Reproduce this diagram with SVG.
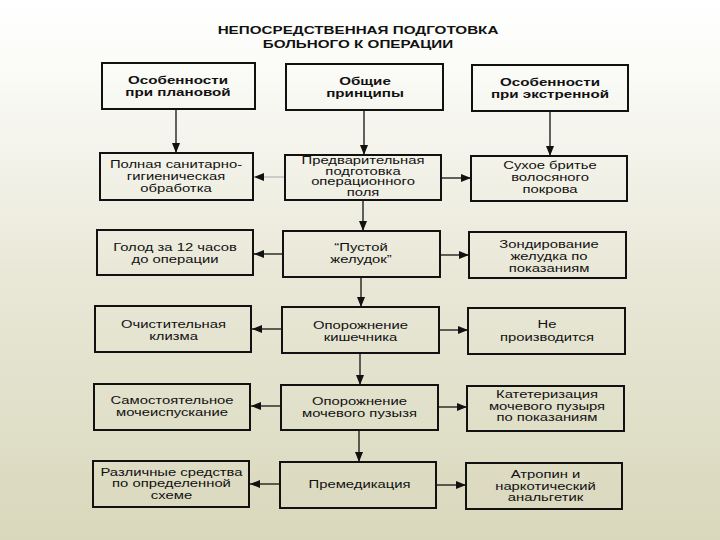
<svg xmlns="http://www.w3.org/2000/svg" width="720" height="540" viewBox="0 0 720 540">
<defs>
<linearGradient id="bg" x1="0" y1="0" x2="0" y2="1">
<stop offset="0" stop-color="#ffffff"/>
<stop offset="0.12" stop-color="#fbfbf8"/>
<stop offset="0.5" stop-color="#e9e8d8"/>
<stop offset="1" stop-color="#d9d8bc"/>
</linearGradient>
<marker id="ah" markerUnits="userSpaceOnUse" markerWidth="10" markerHeight="8" refX="10" refY="4" orient="auto">
<path d="M0,0 L10,4 L0,8 z" fill="#111"/>
</marker>
<style>
.box{fill:none;stroke:#111;stroke-width:2}
.t{font-family:"Liberation Sans",Arial,sans-serif;font-size:10px;fill:#111;text-anchor:middle}
.h{font-family:"Liberation Sans",Arial,sans-serif;font-size:11px;font-weight:bold;fill:#111;text-anchor:middle}
.ti{font-family:"Liberation Sans",Arial,sans-serif;font-size:10.5px;font-weight:bold;fill:#111;text-anchor:middle}
.c{stroke:#111;stroke-width:1.3;fill:none;marker-end:url(#ah)}
.cl{stroke:#aaa;stroke-width:1;fill:none;marker-end:url(#ah)}
</style>
</defs>
<rect width="720" height="540" fill="url(#bg)"/>

<g id="title">
<text class="ti" transform="matrix(1.45 0 0 1 358 0)"><tspan x="0" y="34">НЕПОСРЕДСТВЕННАЯ ПОДГОТОВКА</tspan><tspan x="0" y="48">БОЛЬНОГО К ОПЕРАЦИИ</tspan></text>
</g>

<g id="connectors">
<line class="c" x1="176" y1="109" x2="176" y2="153"/>
<line class="c" x1="364" y1="110" x2="364" y2="155"/>
<line class="c" x1="550" y1="111" x2="550" y2="156"/>
<line class="c" x1="363" y1="200" x2="363" y2="231"/>
<line class="c" x1="361" y1="277" x2="361" y2="307"/>
<line class="c" x1="360" y1="353" x2="360" y2="385"/>
<line class="c" x1="359" y1="430" x2="359" y2="462"/>
<line class="cl" x1="285" y1="177" x2="254" y2="177"/>
<line class="c" x1="441" y1="178" x2="471" y2="178"/>
<line class="c" x1="283" y1="254" x2="254" y2="254"/>
<line class="c" x1="440" y1="255" x2="469" y2="255"/>
<line class="c" x1="282" y1="329" x2="252" y2="329"/>
<line class="c" x1="439" y1="330" x2="468" y2="330"/>
<line class="c" x1="281" y1="406" x2="251" y2="406"/>
<line class="c" x1="438" y1="407" x2="467" y2="407"/>
<line class="c" x1="280" y1="484" x2="250" y2="484"/>
<line class="c" x1="436" y1="485" x2="466" y2="485"/>
</g>

<g id="n1L"><rect class="box" x="102" y="63" width="153" height="46"/>
<text class="h" transform="matrix(1.38 0 0 1 178 0)"><tspan x="0" y="84">Особенности</tspan><tspan x="0" y="96">при плановой</tspan></text></g>
<g id="n1M"><rect class="box" x="286" y="64" width="157" height="46"/>
<text class="h" transform="matrix(1.38 0 0 1 365 0)"><tspan x="0" y="85">Общие</tspan><tspan x="0" y="97">принципы</tspan></text></g>
<g id="n1R"><rect class="box" x="472" y="65" width="156" height="46"/>
<text class="h" transform="matrix(1.38 0 0 1 550 0)"><tspan x="0" y="86">Особенности</tspan><tspan x="0" y="98">при экстренной</tspan></text></g>

<g id="n2L"><rect class="box" x="100" y="153" width="153" height="47"/>
<text class="t" transform="matrix(1.48 0 0 1 176 0)"><tspan x="0" y="168">Полная санитарно-</tspan><tspan x="0" y="180">гигиеническая</tspan><tspan x="0" y="192">обработка</tspan></text></g>
<g id="n2M"><rect class="box" x="285" y="155" width="156" height="45"/>
<text class="t" transform="matrix(1.48 0 0 1 363 0)"><tspan x="0" y="164.5">Предварительная</tspan><tspan x="0" y="175">подготовка</tspan><tspan x="0" y="185.5">операционного</tspan><tspan x="0" y="196">поля</tspan></text></g>
<g id="n2R"><rect class="box" x="471" y="156" width="156" height="45"/>
<text class="t" transform="matrix(1.48 0 0 1 550 0)"><tspan x="0" y="169">Сухое бритье</tspan><tspan x="0" y="181">волосяного</tspan><tspan x="0" y="193">покрова</tspan></text></g>

<g id="n3L"><rect class="box" x="97" y="230" width="156" height="45"/>
<text class="t" transform="matrix(1.48 0 0 1 175 0)"><tspan x="0" y="251">Голод за 12 часов</tspan><tspan x="0" y="263">до операции</tspan></text></g>
<g id="n3M"><rect class="box" x="283" y="231" width="157" height="46"/>
<text class="t" transform="matrix(1.48 0 0 1 361 0)"><tspan x="0" y="251">“Пустой</tspan><tspan x="0" y="263.5">желудок”</tspan></text></g>
<g id="n3R"><rect class="box" x="469" y="232" width="157" height="46"/>
<text class="t" transform="matrix(1.48 0 0 1 549 0)"><tspan x="0" y="248">Зондирование</tspan><tspan x="0" y="260">желудка по</tspan><tspan x="0" y="272">показаниям</tspan></text></g>

<g id="n4L"><rect class="box" x="95" y="306" width="156" height="46"/>
<text class="t" transform="matrix(1.48 0 0 1 173.5 0)"><tspan x="0" y="328">Очистительная</tspan><tspan x="0" y="340">клизма</tspan></text></g>
<g id="n4M"><rect class="box" x="282" y="307" width="157" height="46"/>
<text class="t" transform="matrix(1.48 0 0 1 360.5 0)"><tspan x="0" y="329">Опорожнение</tspan><tspan x="0" y="341">кишечника</tspan></text></g>
<g id="n4R"><rect class="box" x="468" y="308" width="157" height="46"/>
<text class="t" transform="matrix(1.48 0 0 1 547 0)"><tspan x="0" y="328">Не</tspan><tspan x="0" y="341">производится</tspan></text></g>

<g id="n5L"><rect class="box" x="94" y="384" width="156" height="46"/>
<text class="t" transform="matrix(1.48 0 0 1 172 0)"><tspan x="0" y="404">Самостоятельное</tspan><tspan x="0" y="416">мочеиспускание</tspan></text></g>
<g id="n5M"><rect class="box" x="281" y="385" width="157" height="45"/>
<text class="t" transform="matrix(1.48 0 0 1 359.5 0)"><tspan x="0" y="405">Опорожнение</tspan><tspan x="0" y="417">мочевого пузызя</tspan></text></g>
<g id="n5R"><rect class="box" x="467" y="386" width="157" height="45"/>
<text class="t" transform="matrix(1.48 0 0 1 547 0)"><tspan x="0" y="398.5">Катетеризация</tspan><tspan x="0" y="410">мочевого пузыря</tspan><tspan x="0" y="421.5">по показаниям</tspan></text></g>

<g id="n6L"><rect class="box" x="93" y="461" width="156" height="46"/>
<text class="t" transform="matrix(1.48 0 0 1 171.5 0)"><tspan x="0" y="476">Различные средства</tspan><tspan x="0" y="487.5">по определенной</tspan><tspan x="0" y="499">схеме</tspan></text></g>
<g id="n6M"><rect class="box" x="280" y="462" width="156" height="46"/>
<text class="t" transform="matrix(1.48 0 0 1 359.5 0)"><tspan x="0" y="488.5">Премедикация</tspan></text></g>
<g id="n6R"><rect class="box" x="466" y="463" width="156" height="46"/>
<text class="t" transform="matrix(1.48 0 0 1 545.5 0)"><tspan x="0" y="478.5">Атропин и</tspan><tspan x="0" y="490">наркотический</tspan><tspan x="0" y="501.5">анальгетик</tspan></text></g>
</svg>
